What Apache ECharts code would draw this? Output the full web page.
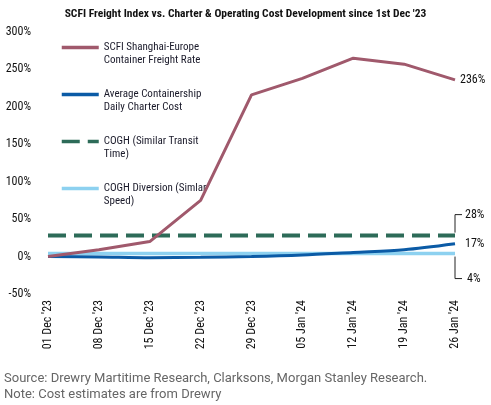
<!DOCTYPE html>
<html>
<head>
<meta charset="utf-8">
<script src="https://cdn.jsdelivr.net/npm/echarts@6/dist/echarts.min.js"></script>
<style>
  html, body { margin: 0; padding: 0; background: #fff; }
  #chart { width: 491px; height: 405px; }
</style>
</head>
<body>
<div id="chart"></div>
<script>
// dates on the x axis
var dates = ["01 Dec '23", "08 Dec '23", "15 Dec '23", "22 Dec '23", "29 Dec '23",
             "05 Jan '24", "12 Jan '24", "19 Jan '24", "26 Jan '24"];
// % change since 1st Dec '23
var freightRate = [0, 9, 20, 75, 216, 238, 265, 257, 236];
var charterCost = [0, -0.5, -1.5, -1, 0, 2, 5.5, 9, 17];
var coghTransit = [28, 28, 28, 28, 28, 28, 28, 28, 28];
var coghSpeed = [4, 4, 4, 4, 4, 4, 4, 4, 4];
var yTicks = { min: -50, max: 300, step: 50 };

var narrow = "'Roboto Condensed', 'Liberation Sans Narrow', 'DejaVu Sans Condensed', Roboto, sans-serif";

var myChart = echarts.init(document.getElementById('chart'));

function endLabel(text, dx, dy) {
    return {
        show: true,
        formatter: text,
        distance: 0,
        offset: [dx, dy],
        color: '#111',
        fontFamily: narrow,
        fontSize: 12
    };
}

var option = {
    animation: false,
    title: {
        text: "SCFI Freight Index vs. Charter & Operating Cost Development since 1st Dec '23",
        left: 'center',
        top: 3,
        textStyle: { fontFamily: narrow, fontSize: 11.5, fontWeight: 'bold', color: '#111' }
    },
    legend: {
        orient: 'vertical',
        left: 55,
        top: 23,
        itemWidth: 37,
        itemHeight: 12,
        itemGap: 8,
        selectedMode: false,
        // line only, no marker dot
        itemStyle: { opacity: 0, borderWidth: 0 },
        lineStyle: { width: 3.5 },
        data: [
            'SCFI Shanghai-Europe\nContainer Freight Rate',
            'Average Containership\nDaily Charter Cost',
            'COGH (Similar Transit\nTime)',
            'COGH Diversion (Simlar\nSpeed)'
        ],
        // blank first line so the icon sits level with the first text line
        formatter: function (name) {
            return ' \n' + name;
        },
        textStyle: {
            fontFamily: narrow,
            fontSize: 11,
            lineHeight: 13,
            color: '#1a1a2a'
        }
    },
    grid: { left: 48, right: 36, top: 32, bottom: 111 },
    xAxis: {
        type: 'category',
        data: dates,
        boundaryGap: false,
        axisLine: { show: false },
        axisTick: { show: false },
        axisLabel: {
            rotate: 90,
            margin: 6,
            interval: 0,
            fontFamily: narrow,
            fontSize: 12,
            color: '#111'
        }
    },
    yAxis: {
        type: 'value',
        min: yTicks.min,
        max: yTicks.max,
        interval: yTicks.step,
        splitLine: { show: false },
        axisLine: { show: false },
        axisTick: { show: false },
        axisLabel: {
            formatter: '{value}%',
            margin: 17,
            fontFamily: narrow,
            fontSize: 12,
            color: '#111'
        }
    },
    series: [
        {
            name: 'SCFI Shanghai-Europe\nContainer Freight Rate',
            type: 'line',
            data: freightRate,
            symbol: 'none',
            z: 5,
            lineStyle: { width: 3, color: '#a0596c' },
            itemStyle: { color: '#a0596c' },
            endLabel: endLabel('236%', 5, 0)
        },
        {
            name: 'Average Containership\nDaily Charter Cost',
            type: 'line',
            data: charterCost,
            symbol: 'none',
            smooth: 0.3,
            z: 4,
            lineStyle: { width: 3, color: '#0b5ba6' },
            itemStyle: { color: '#0b5ba6' },
            endLabel: endLabel('17%', 10, 0)
        },
        {
            name: 'COGH (Similar Transit\nTime)',
            type: 'line',
            data: coghTransit,
            symbol: 'none',
            z: 3,
            lineStyle: { width: 4, color: '#2d6b58', type: [18, 8] },
            itemStyle: { color: '#2d6b58' },
            endLabel: endLabel('28%', 10, -21)
        },
        {
            name: 'COGH Diversion (Simlar\nSpeed)',
            type: 'line',
            data: coghSpeed,
            symbol: 'none',
            z: 2,
            lineStyle: { width: 3.5, color: '#8dd1f0' },
            itemStyle: { color: '#8dd1f0' },
            endLabel: endLabel('4%', 12, 25)
        }
    ]
};

if (option && typeof option === "object") {
    myChart.setOption(option, true);
}

// brackets joining the end labels of the two COGH lines
var last = dates.length - 1;
var pTop = myChart.convertToPixel({ seriesIndex: 2 }, [last, coghTransit[last]]);
var pBot = myChart.convertToPixel({ seriesIndex: 3 }, [last, coghSpeed[last]]);
var bracketStyle = { stroke: '#222', lineWidth: 1, fill: null };

myChart.setOption({
    graphic: [
        {
            type: 'polyline',
            shape: { points: [[pTop[0], pTop[1] - 3], [pTop[0], pTop[1] - 21], [pTop[0] + 7, pTop[1] - 21]] },
            style: bracketStyle
        },
        {
            type: 'polyline',
            shape: { points: [[pBot[0], pBot[1] + 3], [pBot[0], pBot[1] + 25], [pBot[0] + 7, pBot[1] + 25]] },
            style: bracketStyle
        },
        {
            type: 'text',
            left: 4,
            top: 372,
            style: {
                text: 'Source: Drewry Martitime Research, Clarksons, Morgan Stanley Research.',
                fontFamily: 'Roboto, sans-serif',
                fontSize: 13,
                fill: '#666'
            }
        },
        {
            type: 'text',
            left: 4,
            top: 388,
            style: {
                text: 'Note: Cost estimates are from Drewry',
                fontFamily: 'Roboto, sans-serif',
                fontSize: 13,
                fill: '#666'
            }
        }
    ]
});
</script>
</body>
</html>
